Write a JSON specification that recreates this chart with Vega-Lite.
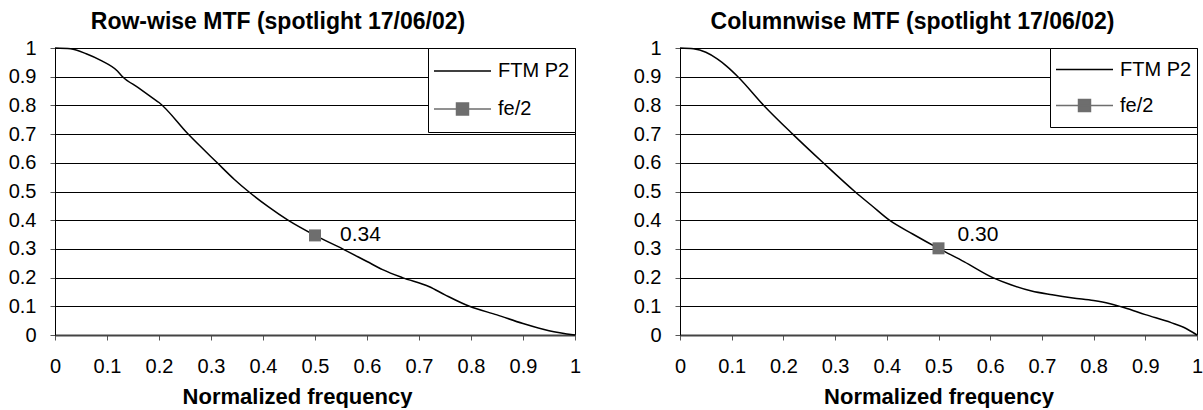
{
  "$schema": "https://vega.github.io/schema/vega-lite/v6.json",
  "background": "white",
  "padding": {"left": 7, "top": 10, "right": 0, "bottom": 0},
  "spacing": 105,
  "bounds": "flush",
  "datasets": {
    "row": [
      {"f": 0, "mtf": 1, "series": "FTM P2"},
      {"f": 0.03, "mtf": 0.997, "series": "FTM P2"},
      {"f": 0.06, "mtf": 0.98, "series": "FTM P2"},
      {"f": 0.09, "mtf": 0.955, "series": "FTM P2"},
      {"f": 0.12, "mtf": 0.92, "series": "FTM P2"},
      {"f": 0.13, "mtf": 0.9, "series": "FTM P2"},
      {"f": 0.16, "mtf": 0.862, "series": "FTM P2"},
      {"f": 0.19, "mtf": 0.823, "series": "FTM P2"},
      {"f": 0.2, "mtf": 0.81, "series": "FTM P2"},
      {"f": 0.256, "mtf": 0.7, "series": "FTM P2"},
      {"f": 0.312, "mtf": 0.6, "series": "FTM P2"},
      {"f": 0.345, "mtf": 0.542, "series": "FTM P2"},
      {"f": 0.372, "mtf": 0.5, "series": "FTM P2"},
      {"f": 0.41, "mtf": 0.447, "series": "FTM P2"},
      {"f": 0.448, "mtf": 0.4, "series": "FTM P2"},
      {"f": 0.5, "mtf": 0.347, "series": "FTM P2"},
      {"f": 0.553, "mtf": 0.3, "series": "FTM P2"},
      {"f": 0.6, "mtf": 0.256, "series": "FTM P2"},
      {"f": 0.63, "mtf": 0.228, "series": "FTM P2"},
      {"f": 0.668, "mtf": 0.2, "series": "FTM P2"},
      {"f": 0.72, "mtf": 0.168, "series": "FTM P2"},
      {"f": 0.75, "mtf": 0.14, "series": "FTM P2"},
      {"f": 0.797, "mtf": 0.1, "series": "FTM P2"},
      {"f": 0.85, "mtf": 0.07, "series": "FTM P2"},
      {"f": 0.9, "mtf": 0.04, "series": "FTM P2"},
      {"f": 0.95, "mtf": 0.015, "series": "FTM P2"},
      {"f": 1, "mtf": 0, "series": "FTM P2"}
    ],
    "col": [
      {"f": 0, "mtf": 1, "series": "FTM P2"},
      {"f": 0.026, "mtf": 0.997, "series": "FTM P2"},
      {"f": 0.05, "mtf": 0.985, "series": "FTM P2"},
      {"f": 0.072, "mtf": 0.962, "series": "FTM P2"},
      {"f": 0.09, "mtf": 0.937, "series": "FTM P2"},
      {"f": 0.112, "mtf": 0.9, "series": "FTM P2"},
      {"f": 0.162, "mtf": 0.8, "series": "FTM P2"},
      {"f": 0.218, "mtf": 0.7, "series": "FTM P2"},
      {"f": 0.277, "mtf": 0.6, "series": "FTM P2"},
      {"f": 0.338, "mtf": 0.5, "series": "FTM P2"},
      {"f": 0.37, "mtf": 0.452, "series": "FTM P2"},
      {"f": 0.405, "mtf": 0.4, "series": "FTM P2"},
      {"f": 0.45, "mtf": 0.352, "series": "FTM P2"},
      {"f": 0.5, "mtf": 0.302, "series": "FTM P2"},
      {"f": 0.55, "mtf": 0.255, "series": "FTM P2"},
      {"f": 0.605, "mtf": 0.2, "series": "FTM P2"},
      {"f": 0.64, "mtf": 0.175, "series": "FTM P2"},
      {"f": 0.68, "mtf": 0.153, "series": "FTM P2"},
      {"f": 0.72, "mtf": 0.14, "series": "FTM P2"},
      {"f": 0.76, "mtf": 0.129, "series": "FTM P2"},
      {"f": 0.8, "mtf": 0.12, "series": "FTM P2"},
      {"f": 0.83, "mtf": 0.11, "series": "FTM P2"},
      {"f": 0.86, "mtf": 0.095, "series": "FTM P2"},
      {"f": 0.9, "mtf": 0.071, "series": "FTM P2"},
      {"f": 0.95, "mtf": 0.043, "series": "FTM P2"},
      {"f": 0.975, "mtf": 0.026, "series": "FTM P2"},
      {"f": 1, "mtf": 0, "series": "FTM P2"}
    ],
    "rowpt": [{"f": 0.5, "mtf": 0.347, "label": "0.34"}],
    "colpt": [{"f": 0.5, "mtf": 0.302, "label": "0.30"}]
  },
  "config": {
    "font": "Liberation Sans",
    "view": {"stroke": "#000000", "strokeWidth": 1},
    "axis": {
      "labelFont": "Liberation Sans", "labelFontSize": 20, "labelColor": "#000000",
      "titleFont": "Liberation Sans", "titleFontSize": 22, "titleFontWeight": "bold", "titleColor": "#000000",
      "tickColor": "#555555", "tickSize": 5, "domainColor": "#000000", "labelFlush": false, "labelOverlap": false, "tickCount": 11
    },
    "title": {"font": "Liberation Sans", "fontSize": 23, "fontWeight": "bold", "color": "#000000", "offset": 4, "frame": "group", "anchor": "middle"}
  },
  "hconcat": [
    {
      "width": 520, "height": 287,
      "title": {"text": "Row-wise MTF (spotlight 17/06/02)", "dx": -37},
      "layer": [
        {
          "data": {"name": "row"},
          "mark": {"type": "line", "interpolate": "monotone", "strokeWidth": 1.5},
          "encoding": {
            "x": {"field": "f", "type": "quantitative", "scale": {"domain": [0, 1], "nice": false},
                  "axis": {"title": "Normalized frequency", "values": [0, 0.1, 0.2, 0.3, 0.4, 0.5, 0.6, 0.7, 0.8, 0.9, 1], "tickCount": 11, "format": ".1~f", "grid": false, "labelOverlap": false, "labelPadding": 16, "titlePadding": 10, "domainColor": "#444444", "domainWidth": 2, "titleX": 242}},
            "y": {"field": "mtf", "type": "quantitative", "scale": {"domain": [0, 1], "nice": false},
                  "axis": {"title": null, "values": [0, 0.1, 0.2, 0.3, 0.4, 0.5, 0.6, 0.7, 0.8, 0.9, 1], "tickCount": 11, "format": ".1~f", "grid": true, "gridColor": "#000000", "gridWidth": 1, "labelOverlap": false, "labelPadding": 14}},
            "color": {"field": "series", "type": "nominal",
                      "scale": {"domain": ["FTM P2", "fe/2"], "range": ["#000000", "#6e6e6e"]},
                      "legend": {"title": null, "orient": "top-right", "offset": 0, "padding": 5, "strokeColor": "#000000", "fillColor": "#ffffff",
                                 "symbolSize": 3249, "symbolStrokeWidth": 1.5, "labelFontSize": 20, "labelFont": "Liberation Sans", "labelColor": "#000000",
                                 "labelOffset": 6, "clipHeight": 36, "rowPadding": 2,
                                 "encode": {"symbols": {"update": {
                                   "shape": {"signal": "datum.value === 'fe/2' ? 'M-1,0H1M-0.21,-0.21H0.21V0.21H-0.21Z' : 'M-1,0H1'"},
                                   "fill": {"signal": "datum.value === 'fe/2' ? '#6e6e6e' : 'transparent'"}}}}}}
          }
        },
        {
          "data": {"name": "rowpt"},
          "mark": {"type": "point", "shape": "square", "filled": true, "size": 144, "color": "#6e6e6e", "opacity": 1},
          "encoding": {
            "x": {"field": "f", "type": "quantitative"},
            "y": {"field": "mtf", "type": "quantitative"}
          }
        },
        {
          "data": {"name": "rowpt"},
          "mark": {"type": "text", "align": "left", "baseline": "middle", "dx": 25, "fontSize": 21, "font": "Liberation Sans", "color": "#000000"},
          "encoding": {
            "x": {"field": "f", "type": "quantitative"},
            "y": {"field": "mtf", "type": "quantitative"},
            "text": {"field": "label"}
          }
        }
      ]
    },
    {
      "width": 517, "height": 287,
      "title": {"text": "Columnwise MTF (spotlight 17/06/02)", "dx": -26},
      "layer": [
        {
          "data": {"name": "col"},
          "mark": {"type": "line", "interpolate": "monotone", "strokeWidth": 1.5},
          "encoding": {
            "x": {"field": "f", "type": "quantitative", "scale": {"domain": [0, 1], "nice": false},
                  "axis": {"title": "Normalized frequency", "values": [0, 0.1, 0.2, 0.3, 0.4, 0.5, 0.6, 0.7, 0.8, 0.9, 1], "tickCount": 11, "format": ".1~f", "grid": false, "labelOverlap": false, "labelPadding": 16, "titlePadding": 10, "domainColor": "#444444", "domainWidth": 2}},
            "y": {"field": "mtf", "type": "quantitative", "scale": {"domain": [0, 1], "nice": false},
                  "axis": {"title": null, "values": [0, 0.1, 0.2, 0.3, 0.4, 0.5, 0.6, 0.7, 0.8, 0.9, 1], "tickCount": 11, "format": ".1~f", "grid": true, "gridColor": "#000000", "gridWidth": 1, "labelOverlap": false, "labelPadding": 14}},
            "color": {"field": "series", "type": "nominal",
                      "scale": {"domain": ["FTM P2", "fe/2"], "range": ["#000000", "#6e6e6e"]},
                      "legend": {"title": null, "orient": "top-right", "offset": 0, "padding": 5, "strokeColor": "#000000", "fillColor": "#ffffff",
                                 "symbolSize": 3249, "symbolStrokeWidth": 1.5, "labelFontSize": 20, "labelFont": "Liberation Sans", "labelColor": "#000000",
                                 "labelOffset": 6, "clipHeight": 33, "rowPadding": 3,
                                 "encode": {"symbols": {"update": {
                                   "shape": {"signal": "datum.value === 'fe/2' ? 'M-1,0H1M-0.21,-0.21H0.21V0.21H-0.21Z' : 'M-1,0H1'"},
                                   "fill": {"signal": "datum.value === 'fe/2' ? '#6e6e6e' : 'transparent'"}}}}}}
          }
        },
        {
          "data": {"name": "colpt"},
          "mark": {"type": "point", "shape": "square", "filled": true, "size": 144, "color": "#6e6e6e", "opacity": 1},
          "encoding": {
            "x": {"field": "f", "type": "quantitative"},
            "y": {"field": "mtf", "type": "quantitative"}
          }
        },
        {
          "data": {"name": "colpt"},
          "mark": {"type": "text", "align": "left", "baseline": "middle", "dx": 19, "dy": -13, "fontSize": 21, "font": "Liberation Sans", "color": "#000000"},
          "encoding": {
            "x": {"field": "f", "type": "quantitative"},
            "y": {"field": "mtf", "type": "quantitative"},
            "text": {"field": "label"}
          }
        }
      ]
    }
  ],
  "resolve": {"scale": {"color": "independent"}, "legend": {"color": "independent"}}
}
